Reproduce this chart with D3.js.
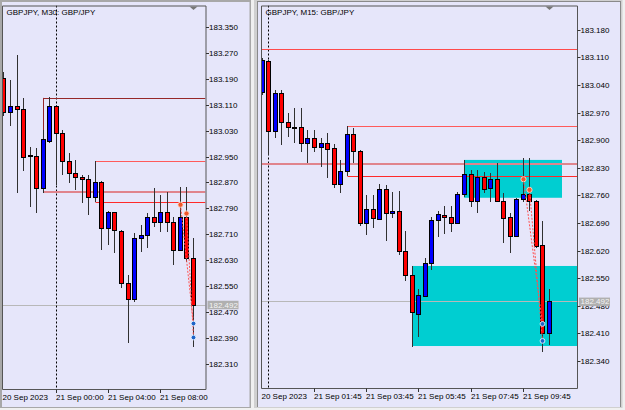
<!DOCTYPE html>
<html>
<head>
<meta charset="utf-8">
<script src="https://cdn.jsdelivr.net/npm/d3@7"></script>
<style>
  body { margin: 0; background: #f0f0f0; }
  text { font-family: "Liberation Sans", Arial, sans-serif; font-size: 8px; }
</style>
</head>
<body>
<script>
// ---- M30 bars, first bar is 20 Sep 20:00 (index -8 from 21 Sep 00:00)
const m30Start = -8;
const m30Open  = [183.192, 183.087, 183.106, 183.096, 182.951, 182.952, 182.852, 182.998, 183.106, 183.024,
                  182.936, 182.898, 182.886, 182.881, 182.826, 182.872, 182.728, 182.780, 182.721, 182.558,
                  182.509, 182.697, 182.708, 182.764, 182.747, 182.778, 182.749, 182.661, 182.764, 182.636];
const m30High  = [183.211, 183.186, 183.264, 183.130, 182.979, 182.976, 183.032, 183.133, 183.110, 183.032,
                  182.960, 182.939, 182.893, 182.893, 182.936, 182.874, 182.782, 182.780, 182.723, 182.584,
                  182.713, 182.738, 182.775, 182.852, 182.831, 182.841, 182.764, 182.857, 182.857, 182.697];
const m30Low   = [183.075, 183.044, 182.837, 182.906, 182.795, 182.776, 182.838, 182.992, 182.862, 182.893,
                  182.869, 182.847, 182.807, 182.769, 182.810, 182.661, 182.677, 182.651, 182.543, 182.375,
                  182.502, 182.656, 182.666, 182.733, 182.718, 182.718, 182.615, 182.658, 182.624, 182.363];
const m30Close = [183.088, 183.106, 183.096, 182.948, 182.954, 182.852, 183.003, 183.106, 183.023, 182.937,
                  182.898, 182.886, 182.881, 182.826, 182.872, 182.728, 182.780, 182.723, 182.558, 182.509,
                  182.697, 182.708, 182.764, 182.747, 182.778, 182.749, 182.661, 182.764, 182.636, 182.492];

// ---- M15 bars, first bar is 20 Sep 23:45
const m15Start = -1;
const m15Open  = [183.023, 183.102, 182.924, 183.019, 182.947, 182.932, 182.933, 182.892, 182.906, 182.882,
                  182.892, 182.879, 182.788, 182.823, 182.916, 182.873, 182.691, 182.725, 182.700, 182.775,
                  182.716, 182.720, 182.619, 182.558, 182.458, 182.506, 182.588, 182.698, 182.710, 182.704,
                  182.691, 182.763, 182.814, 182.747, 182.806, 182.780, 182.802, 182.747, 182.704, 182.657,
                  182.750, 182.764, 182.746, 182.634, 182.410];
const m15High  = [183.108, 183.103, 183.027, 183.027, 182.970, 182.981, 182.981, 182.926, 182.926, 182.905,
                  182.919, 182.890, 182.850, 182.936, 182.931, 182.875, 182.761, 182.761, 182.789, 182.786,
                  182.769, 182.772, 182.670, 182.581, 182.522, 182.600, 182.704, 182.720, 182.733, 182.733,
                  182.769, 182.850, 182.824, 182.824, 182.820, 182.816, 182.841, 182.765, 182.715, 182.753,
                  182.854, 182.854, 182.748, 182.696, 182.522];
const m15Low   = [183.015, 182.862, 182.905, 182.888, 182.909, 182.892, 182.871, 182.841, 182.871, 182.833,
                  182.803, 182.780, 182.765, 182.809, 182.841, 182.682, 182.660, 182.677, 182.698, 182.645,
                  182.702, 182.609, 182.543, 182.376, 182.400, 182.502, 182.571, 182.655, 182.662, 182.668,
                  182.687, 182.755, 182.730, 182.716, 182.767, 182.744, 182.744, 182.640, 182.613, 182.657,
                  182.744, 182.721, 182.627, 182.364, 182.381];
const m15Close = [183.103, 182.924, 183.019, 182.947, 182.933, 182.933, 182.894, 182.906, 182.884, 182.892,
                  182.878, 182.788, 182.823, 182.916, 182.873, 182.691, 182.725, 182.702, 182.775, 182.716,
                  182.721, 182.620, 182.558, 182.464, 182.507, 182.588, 182.698, 182.712, 182.704, 182.691,
                  182.763, 182.814, 182.747, 182.806, 182.775, 182.802, 182.747, 182.702, 182.657, 182.750,
                  182.764, 182.746, 182.632, 182.410, 182.492];

const bidPrice = 182.492;

// price axis ticks
const m30Ticks = [182.310, 182.390, 182.470, 182.550, 182.630, 182.710, 182.790,
                  182.870, 182.950, 183.030, 183.110, 183.190, 183.270, 183.350];
const m15Ticks = [182.340, 182.410, 182.480, 182.550, 182.620, 182.690, 182.760,
                  182.830, 182.900, 182.970, 183.040, 183.110, 183.180];

// time axis (minutes from 21 Sep 00:00)
const m30TimeTicks  = [0, 240, 480];
const m30TimeLabels = ["21 Sep 00:00", "21 Sep 04:00", "21 Sep 08:00"];
const m15TimeTicks  = [105, 225, 345, 465, 585];
const m15TimeLabels = ["21 Sep 01:45", "21 Sep 03:45", "21 Sep 05:45", "21 Sep 07:45", "21 Sep 09:45"];

// drawn levels (top/bottom of two boxes, start time in minutes)
const boxTop    = [183.131, 182.936];
const boxBottom = [182.840, 182.810];
const boxStart  = [-60, 180];

// cyan zones on the M15 chart
const zoneTop    = [182.850, 182.581];
const zoneBottom = [182.754, 182.378];
const zoneStart  = [450, 330];
const zoneEnd    = [675, null];

// trades
const entryTime  = [585, 600];
const entryPrice = [182.801, 182.774];
const exitTime   = [630, 630];
const exitPrice  = [182.434, 182.391];

const svg = d3.select("body").append("svg")
  .attr("width", 625).attr("height", 410);

svg.append("rect").attr("width", 625).attr("height", 410).attr("fill", "#f0f0f0");

// windows
svg.append("rect").attr("x", 0).attr("y", 0).attr("width", 251).attr("height", 408)
  .attr("fill", "#a8a8a8");
svg.append("rect").attr("x", 2).attr("y", 2).attr("width", 247.5).attr("height", 405)
  .attr("fill", "#e6e6fa");
svg.append("rect").attr("x", 254).attr("y", 0).attr("width", 368.5).attr("height", 408)
  .attr("fill", "#d0d0d0");
svg.append("rect").attr("x", 257).attr("y", 1).attr("width", 364).attr("height", 406)
  .attr("fill", "#8a8a8a");
svg.append("rect").attr("x", 258).attr("y", 2).attr("width", 362).attr("height", 405)
  .attr("fill", "#e6e6fa");

function drawChart(c) {
  const x = d3.scaleLinear().domain(c.xDomain).range(c.xRange);
  const y = d3.scaleLinear().domain(c.yDomain).range(c.yRange);
  const bx = t => Math.round(x(Math.floor(t / c.tf)));   // time -> bar column
  const cx = i => Math.round(x(i));

  const clipId = "clip" + c.id;
  svg.append("clipPath").attr("id", clipId).append("rect")
    .attr("x", c.left).attr("y", c.top)
    .attr("width", c.right - c.left).attr("height", c.bottom - c.top);

  const g = svg.append("g");
  const plot = g.append("g").attr("clip-path", `url(#${clipId})`);

  // cyan zones
  if (c.zones) {
    plot.selectAll(".zone").data(zoneTop).join("rect")
      .attr("x", (d, k) => bx(zoneStart[k]))
      .attr("y", d => y(d))
      .attr("width", (d, k) => (zoneEnd[k] == null ? c.right : bx(zoneEnd[k])) - bx(zoneStart[k]))
      .attr("height", (d, k) => y(zoneBottom[k]) - y(d))
      .attr("fill", "#00ced1");
  }

  // current price line
  plot.append("line")
    .attr("x1", c.left).attr("x2", c.right)
    .attr("y1", Math.round(y(bidPrice)) + 0.5).attr("y2", Math.round(y(bidPrice)) + 0.5)
    .attr("stroke", "#b8b8b8");

  // day separator
  plot.append("line")
    .attr("x1", cx(0) + 0.5).attr("x2", cx(0) + 0.5)
    .attr("y1", c.top).attr("y2", c.bottom)
    .attr("stroke", "#000").attr("stroke-dasharray", "2,2");

  // boxes drawn as levels with a left edge
  const levelColors = [c.topColor, "#ff5a5a"];
  const lowColors = ["#e0848c", "#ff2a2a"];
  boxTop.forEach((p, k) => {
    const sx = bx(boxStart[k]) + 0.5;
    plot.append("line").attr("x1", sx).attr("x2", c.right)
      .attr("y1", Math.round(y(p)) + 0.5).attr("y2", Math.round(y(p)) + 0.5)
      .attr("stroke", levelColors[k]);
    plot.append("line").attr("x1", sx).attr("x2", c.right)
      .attr("y1", Math.round(y(boxBottom[k])) + (k == 0 ? 0 : 0.5))
      .attr("y2", Math.round(y(boxBottom[k])) + (k == 0 ? 0 : 0.5))
      .attr("stroke", lowColors[k]).attr("stroke-width", k == 0 ? 2 : 1);
    plot.append("line").attr("x1", sx).attr("x2", sx)
      .attr("y1", y(p)).attr("y2", y(boxBottom[k]))
      .attr("stroke", levelColors[k]);
  });

  // candles
  const bars = c.open.map((o, k) => ({i: c.start + k, o: o, h: c.high[k], l: c.low[k], cl: c.close[k]}));
  plot.selectAll(".wick").data(bars).join("line")
    .attr("x1", d => cx(d.i) + 0.5).attr("x2", d => cx(d.i) + 0.5)
    .attr("y1", d => Math.round(y(d.h))).attr("y2", d => Math.round(y(d.l)))
    .attr("stroke", "#303030");
  plot.selectAll(".body").data(bars).join("rect")
    .attr("x", d => cx(d.i) - 1.5)
    .attr("y", d => Math.round(y(Math.max(d.o, d.cl))) + 0.5)
    .attr("width", 4)
    .attr("height", d => Math.max(1, Math.round(y(Math.min(d.o, d.cl))) - Math.round(y(Math.max(d.o, d.cl)))))
    .attr("fill", d => d.cl >= d.o ? "#0000ff" : "#ff0000")
    .attr("stroke", "#000");

  // trades
  entryTime.forEach((t, k) => {
    plot.append("line")
      .attr("x1", bx(t) + 0.5).attr("y1", y(entryPrice[k]))
      .attr("x2", bx(exitTime[k]) + 0.5).attr("y2", y(exitPrice[k]))
      .attr("stroke", "#ff5050").attr("stroke-dasharray", "2,1.5");
  });
  entryTime.forEach((t, k) => {
    plot.append("circle").attr("cx", bx(t) + 0.5).attr("cy", y(entryPrice[k])).attr("r", 2.6)
      .attr("fill", "#f2552a").attr("stroke", "#ffd8c8").attr("stroke-width", 0.9);
    plot.append("circle").attr("cx", bx(exitTime[k]) + 0.5).attr("cy", y(exitPrice[k])).attr("r", 2.4)
      .attr("fill", "#1e64c8").attr("stroke", "#e8f0ff").attr("stroke-width", 0.9);
  });

  // frame
  g.append("path")
    .attr("d", `M${c.left + 0.5},${c.bottom + 0.5}V${c.top + 0.5}H${c.right + 0.5}V${c.bottom + 0.5}H${c.left + 0.5}`)
    .attr("fill", "none").attr("stroke", "#555");

  // shift marker
  const sx = cx(c.start + c.open.length - 1) + 0.5;
  g.append("path")
    .attr("d", `M${sx - 4},${c.top + 1}L${sx + 4},${c.top + 1}L${sx},${c.top + 4.5}Z`)
    .attr("fill", "#777");

  // price axis
  c.ticks.forEach(p => {
    const ty = Math.round(y(p)) + 0.5;
    g.append("line").attr("x1", c.right + 0.5).attr("x2", c.right + 3.5)
      .attr("y1", ty).attr("y2", ty).attr("stroke", "#333");
    g.append("text").attr("x", c.right + 3.5).attr("y", ty + 2.9)
      .attr("fill", "#000").text(p.toFixed(3));
  });
  const by = y(bidPrice) + c.bidShift;
  g.append("rect").attr("x", c.right + 2).attr("y", by - 4).attr("width", 31).attr("height", 8.5)
    .attr("fill", "#b0b0b0");
  g.append("text").attr("x", c.right + 3.5).attr("y", by + 2.9)
    .attr("fill", "#f4f4f4").text(bidPrice.toFixed(3));

  // time axis
  c.timeTicks.forEach((t, k) => {
    const tx = bx(t) + 0.5;
    g.append("line").attr("x1", tx).attr("x2", tx)
      .attr("y1", c.bottom + 0.5).attr("y2", c.bottom + 4).attr("stroke", "#333");
    g.append("text").attr("x", tx - 0.5).attr("y", c.bottom + 11)
      .attr("fill", "#000").text(c.timeLabels[k]);
  });
  g.append("text").attr("x", c.left + 0.5).attr("y", c.bottom + 11)
    .attr("fill", "#000").text("20 Sep 2023");

  // title
  g.append("text").attr("x", c.left + 4.5).attr("y", c.top + 9.5)
    .attr("fill", "#000").text(c.title);
}

drawChart({
  id: "m30", tf: 30, title: "GBPJPY, M30:  GBP/JPY",
  left: 2, right: 205.5, top: 5.5, bottom: 389,
  xDomain: [0, 16], xRange: [55.7, 160.2],
  yDomain: [182.31, 183.35], yRange: [363.7, 27],
  start: m30Start, open: m30Open, high: m30High, low: m30Low, close: m30Close,
  ticks: m30Ticks, timeTicks: m30TimeTicks, timeLabels: m30TimeLabels,
  topColor: "#962828", zones: false, bidShift: 0
});

drawChart({
  id: "m15", tf: 15, title: "GBPJPY, M15:  GBP/JPY",
  left: 261, right: 577, top: 5.5, bottom: 388,
  xDomain: [7, 39], xRange: [314, 522.7],
  yDomain: [182.34, 183.18], yRange: [361, 29.8],
  start: m15Start, open: m15Open, high: m15High, low: m15Low, close: m15Close,
  ticks: m15Ticks, timeTicks: m15TimeTicks, timeLabels: m15TimeLabels,
  topColor: "#ff4a4a", zones: true, bidShift: 0.5
});
</script>
</body>
</html>
